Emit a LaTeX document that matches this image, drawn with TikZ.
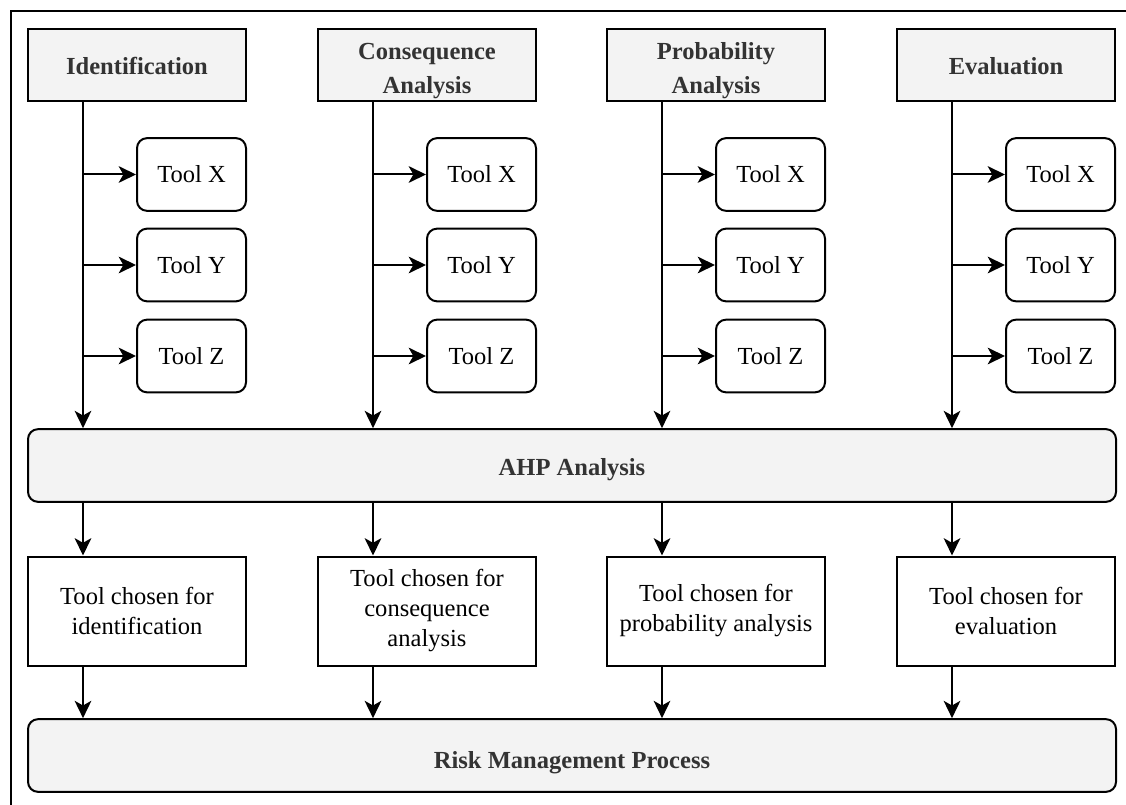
\documentclass[tikz,border=0pt]{standalone}
\usepackage{fontspec}
\setmainfont{Liberation Serif}
\usetikzlibrary{arrows.meta}
\definecolor{boxgray}{HTML}{F3F3F3}
\definecolor{headtext}{HTML}{333333}
\tikzset{
  base/.style={draw=black, line width=1.5pt, font=\fontsize{18.4}{22.5}\selectfont, align=center, inner sep=0pt},
  headbox/.style={base, fill=boxgray, text=headtext, font=\fontsize{18.4}{25.5}\selectfont\bfseries, minimum width=163.5pt, minimum height=54pt},
  oneline/.style={text height=15pt, text depth=0pt},
  twoline/.style={text height=42.4pt, text depth=0pt},
  toolbox/.style={base, fill=white, rounded corners=7.5pt, minimum width=81.75pt, minimum height=54.5pt},
  widebox/.style={base, fill=boxgray, text=headtext, rounded corners=7.5pt, font=\fontsize{18.4}{22.5}\selectfont\bfseries, minimum width=816pt, minimum height=54.5pt},
  chosenbox/.style={base, fill=white, minimum width=163.5pt, minimum height=81.75pt},
  arr/.style={draw=black, line width=1.5pt, -{Stealth[length=13pt,width=12.5pt,inset=3.5pt]}},
  frame/.style={draw=black, line width=1.2pt}
}
\begin{document}
\begin{tikzpicture}[x=0.75pt,y=-0.75pt]
\useasboundingbox (0,0) rectangle (1126,805);
\clip (0,0) rectangle (1126,805);
\draw[frame] (11,11) rectangle (1150,830);
\node[widebox, oneline] (ahp) at (572,465.5) {AHP Analysis};
\node[widebox, text height=19pt, text depth=0pt] (risk) at (572,755.5) {Risk Management Process};
\foreach \k/\dx/\hs/\head/\chosen in {I/0/oneline/Identification/{Tool chosen for\\identification},
  C/290/twoline/{Consequence\\Analysis}/{Tool chosen for\\consequence\\analysis},
  P/579/twoline/{Probability\\Analysis}/{Tool chosen for\\probability analysis},
  E/869/oneline/Evaluation/{Tool chosen for\\evaluation}}{
  \node[headbox, \hs] (h\k) at (137+\dx,65) {\head};
  \node[toolbox] (x\k) at (191.5+\dx,174.5) {Tool X};
  \node[toolbox] (y\k) at (191.5+\dx,265) {Tool Y};
  \node[toolbox] (z\k) at (191.5+\dx,356) {Tool Z};
  \node[chosenbox] (c\k) at (137+\dx,611) {\chosen};
  \coordinate (s\k) at (83+\dx,101);
  \draw[arr] (s\k) -- (s\k |- ahp.north);
  \draw[arr] (s\k |- x\k.west) -- (x\k.west);
  \draw[arr] (s\k |- y\k.west) -- (y\k.west);
  \draw[arr] (s\k |- z\k.west) -- (z\k.west);
  \draw[arr] (s\k |- ahp.south) -- (s\k |- c\k.north);
  \draw[arr] (s\k |- c\k.south) -- (s\k |- risk.north);
}
\end{tikzpicture}
\end{document}
